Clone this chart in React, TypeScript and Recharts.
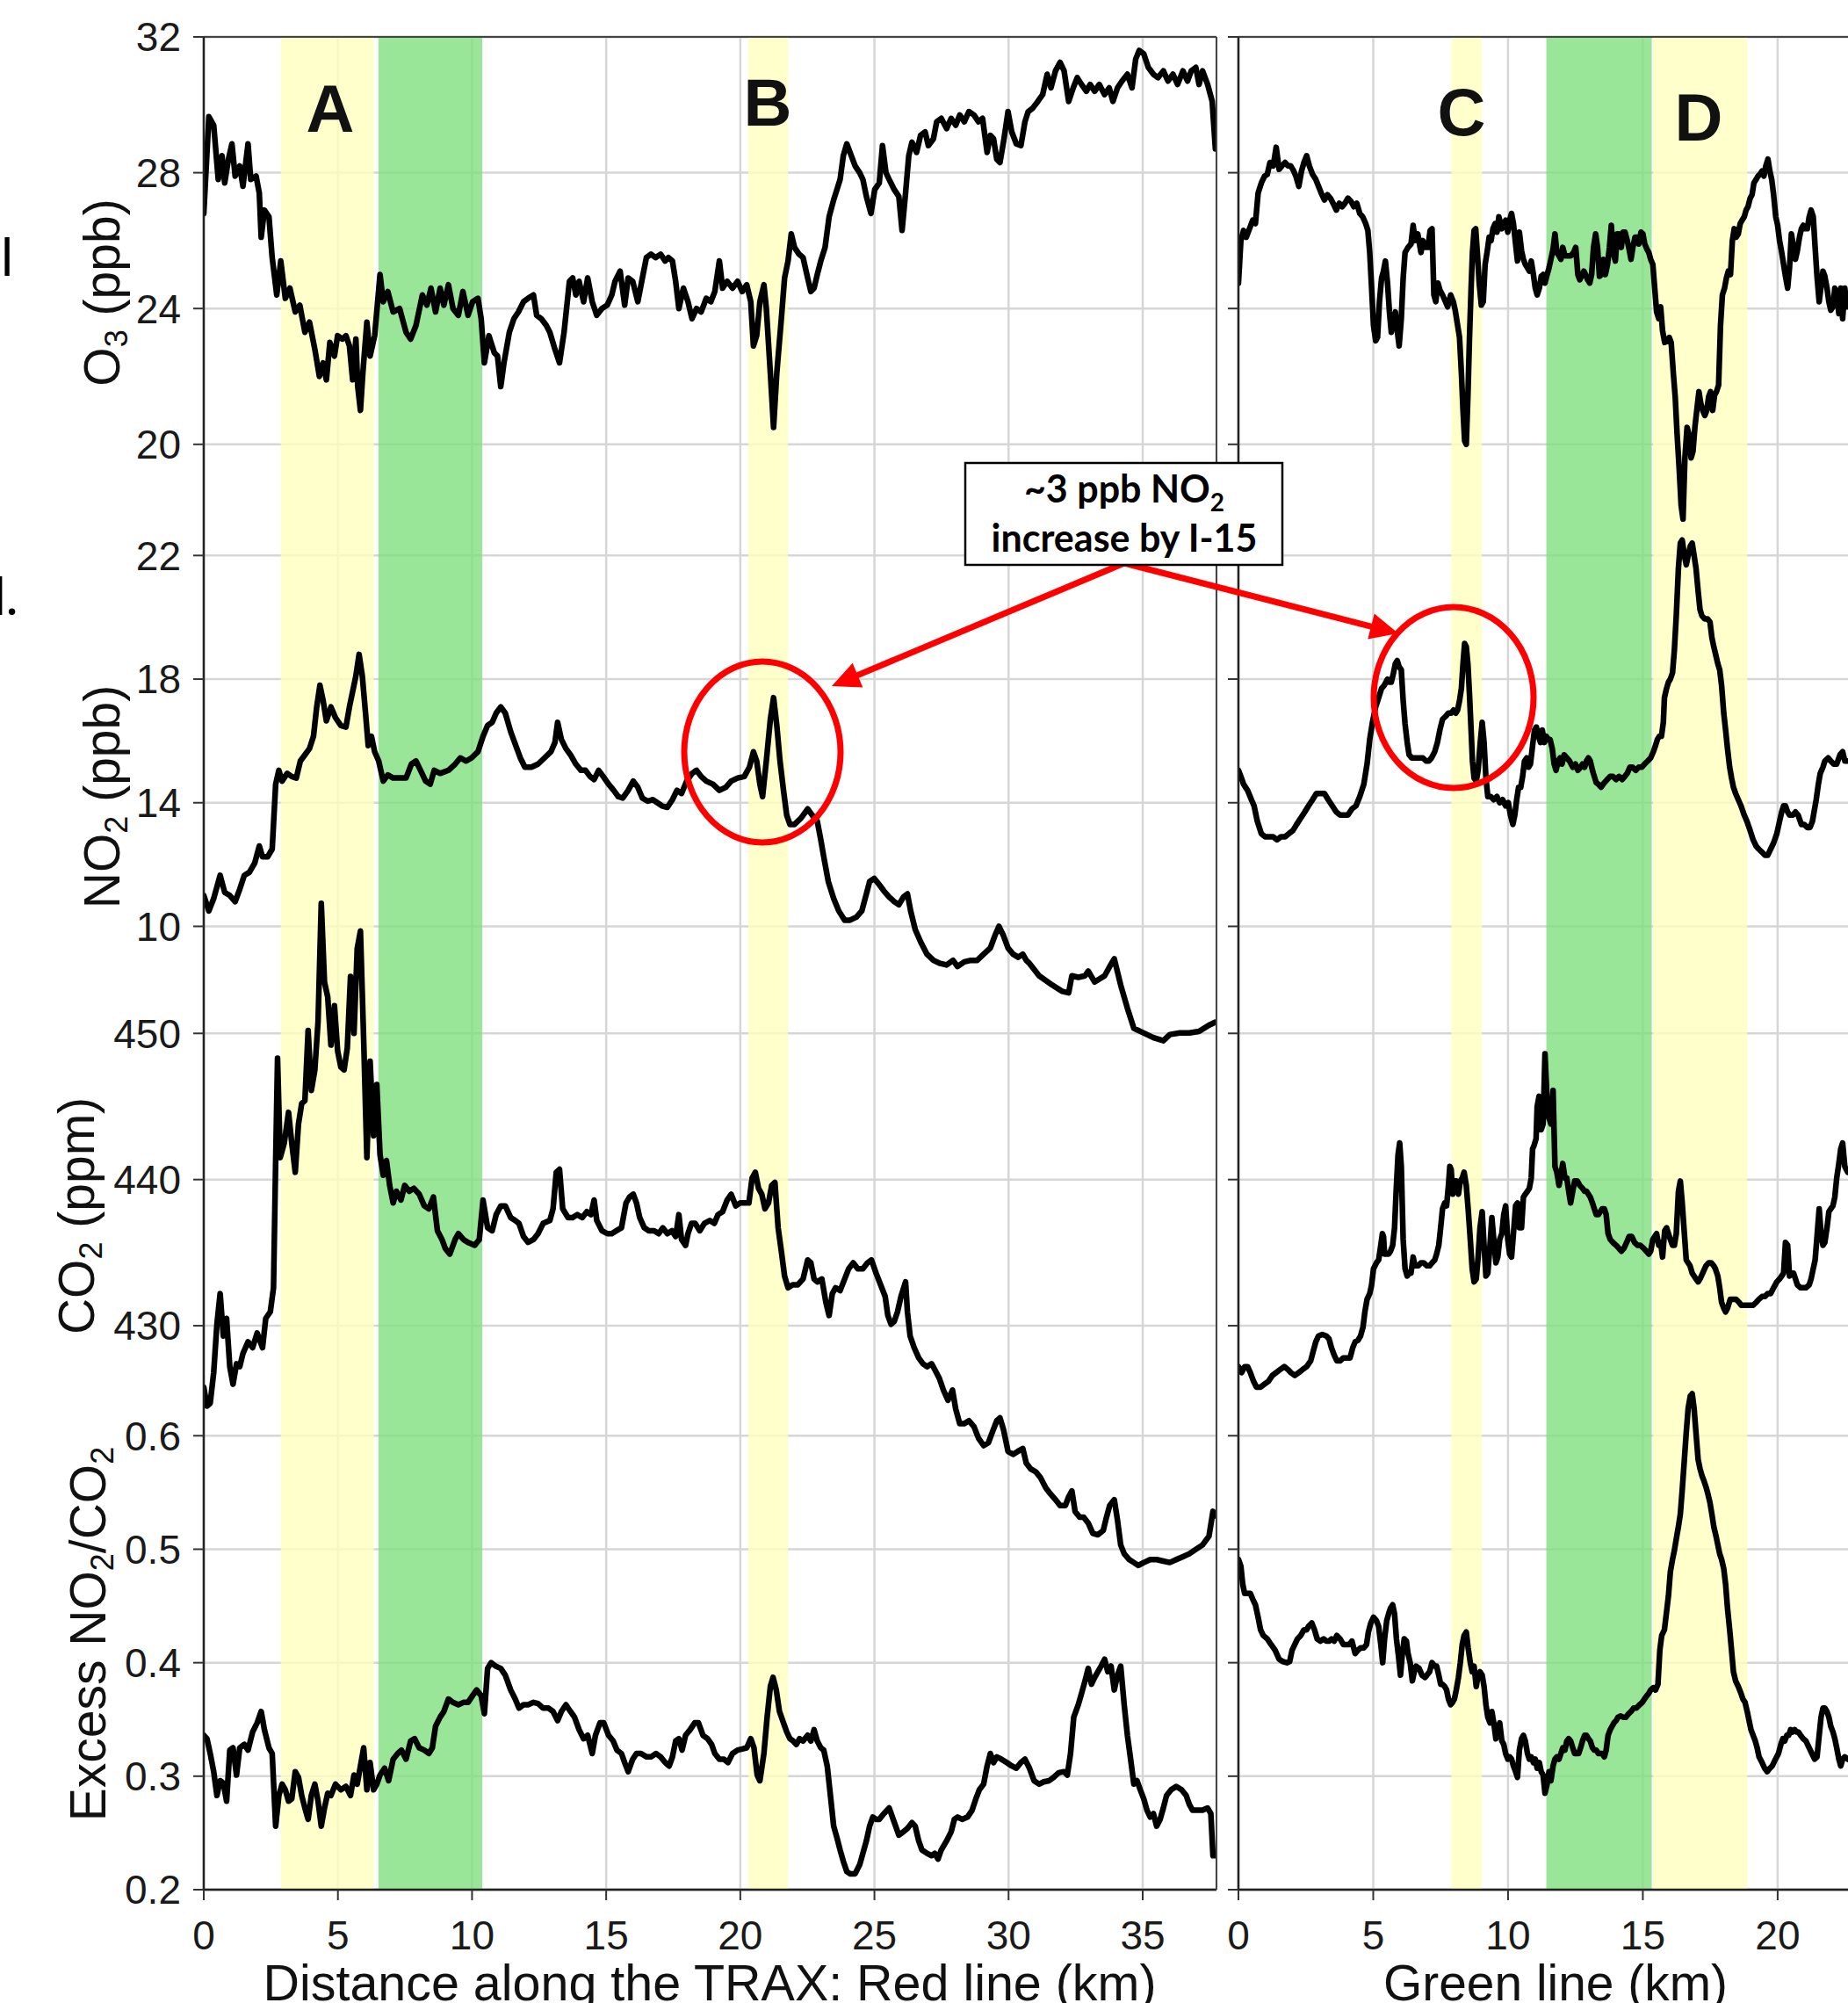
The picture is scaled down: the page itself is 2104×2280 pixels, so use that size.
import React from 'react';
import { LineChart, Line, XAxis, YAxis, CartesianGrid, ReferenceArea } from 'recharts';

// ---- data: [km, value] ----

const redO3: [number, number][] = [
  [0, 26.8], [0.19, 29.65], [0.37, 29.4], [0.54, 27.8], [0.68, 28.5], [0.78, 27.7], [0.92, 28.4], [1.05, 28.85],
  [1.17, 27.9], [1.34, 28.2], [1.46, 27.6], [1.65, 28.85], [1.75, 27.8], [1.95, 27.9], [2.07, 27.4], [2.14, 26.1],
  [2.26, 26.9], [2.43, 26.7], [2.55, 25.5], [2.72, 24.4], [2.87, 25.4], [3.04, 24.3], [3.21, 24.6], [3.41, 23.9],
  [3.58, 24.1], [3.77, 23.3], [3.94, 23.6], [4.14, 22.8], [4.31, 22.0], [4.45, 22.4], [4.57, 21.9], [4.7, 23.0],
  [4.87, 22.6], [4.99, 23.2], [5.16, 23.1], [5.3, 23.2], [5.43, 22.9], [5.55, 21.9], [5.67, 23.1], [5.74, 21.7],
  [5.84, 21.0], [5.93, 22.1], [6.08, 23.6], [6.2, 22.6], [6.37, 23.2], [6.57, 25.0], [6.69, 24.2], [6.86, 24.5],
  [7.06, 23.9], [7.3, 24.0], [7.54, 23.3], [7.71, 23.1], [7.91, 23.5], [8.15, 24.4], [8.32, 24.1], [8.47, 24.6],
  [8.64, 23.9], [8.81, 24.6], [8.95, 24.1], [9.12, 24.7], [9.29, 24.0], [9.49, 23.8], [9.66, 24.5], [9.85, 23.8],
  [10.02, 24.2], [10.22, 24.3], [10.34, 23.7], [10.46, 22.4], [10.63, 23.2], [10.83, 22.7], [10.95, 22.6], [11.07, 21.7],
  [11.19, 22.4], [11.39, 23.3], [11.56, 23.7], [11.73, 23.9], [11.92, 24.2], [12.09, 24.3], [12.29, 24.4], [12.41, 23.8],
  [12.58, 23.7], [12.77, 23.5], [12.9, 23.3], [13.09, 22.8], [13.26, 22.4], [13.43, 23.3], [13.63, 24.8], [13.75, 24.9],
  [13.87, 24.4], [13.99, 24.8], [14.16, 24.2], [14.31, 24.9], [14.48, 24.2], [14.65, 23.8], [14.84, 24.0], [15.04, 24.1],
  [15.21, 24.4], [15.33, 24.8], [15.52, 25.1], [15.69, 24.1], [15.82, 24.9], [15.99, 24.8], [16.18, 24.2], [16.35, 24.9],
  [16.5, 25.5], [16.67, 25.6], [16.84, 25.5], [17.03, 25.6], [17.2, 25.4], [17.32, 25.5], [17.47, 25.4], [17.59, 24.8],
  [17.71, 24.0], [17.88, 24.6], [18.05, 24.2], [18.2, 23.7], [18.37, 24.0], [18.54, 23.9], [18.73, 24.3], [18.9, 24.2],
  [19.05, 24.5], [19.22, 25.4], [19.34, 24.6], [19.51, 24.8], [19.71, 24.6], [19.9, 24.8], [20.07, 24.5], [20.24, 24.7],
  [20.39, 24.2], [20.49, 22.9], [20.61, 23.2], [20.73, 24.2], [20.88, 24.7], [20.97, 24.0], [21.12, 22.1], [21.24, 20.5],
  [21.36, 22.1], [21.53, 23.7], [21.65, 24.9], [21.78, 25.4], [21.9, 26.2], [22.02, 25.8], [22.19, 25.6], [22.34, 25.5],
  [22.51, 24.9], [22.63, 24.5], [22.75, 24.6], [22.87, 25.0], [23.0, 25.4], [23.16, 25.8], [23.31, 26.7], [23.48, 27.2],
  [23.6, 27.5], [23.72, 27.8], [23.84, 28.5], [23.97, 28.85], [24.09, 28.6], [24.28, 28.2], [24.45, 28.0], [24.57, 27.8],
  [24.7, 27.3], [24.87, 26.8], [25.01, 27.5], [25.18, 27.7], [25.3, 28.8], [25.43, 28.0], [25.55, 27.8], [25.74, 27.5],
  [25.91, 27.3], [26.03, 26.3], [26.16, 27.4], [26.28, 28.5], [26.4, 28.9], [26.57, 28.6], [26.72, 29.1], [26.89, 29.2],
  [27.01, 28.8], [27.2, 29.0], [27.32, 29.5], [27.49, 29.6], [27.69, 29.3], [27.86, 29.6], [28.03, 29.4], [28.18, 29.7],
  [28.35, 29.5], [28.52, 29.8], [28.71, 29.7], [28.88, 29.5], [29.03, 29.6], [29.2, 28.6], [29.32, 29.1], [29.44, 29.0],
  [29.56, 28.4], [29.68, 28.3], [29.83, 29.0], [29.98, 29.8], [30.12, 29.2], [30.29, 28.85], [30.46, 28.8], [30.61, 29.5],
  [30.73, 29.8], [30.9, 29.9], [31.09, 30.1], [31.27, 30.3], [31.44, 30.9], [31.58, 30.5], [31.75, 31.0], [31.92, 31.25],
  [32.07, 31.0], [32.24, 30.1], [32.41, 30.5], [32.56, 30.8], [32.72, 30.6], [32.9, 30.4], [33.04, 30.6], [33.21, 30.4],
  [33.38, 30.6], [33.58, 30.3], [33.75, 30.5], [33.89, 30.1], [34.06, 30.5], [34.23, 30.7], [34.43, 30.9], [34.6, 30.5],
  [34.74, 31.35], [34.87, 31.6], [35.04, 31.5], [35.21, 31.1], [35.4, 30.9], [35.57, 30.8], [35.77, 31.0], [35.94, 30.7],
  [36.13, 30.9], [36.3, 30.6], [36.5, 31.0], [36.67, 30.7], [36.81, 31.0], [36.98, 31.1], [37.1, 30.6], [37.23, 31.0],
  [37.42, 30.6], [37.59, 30.1], [37.71, 28.7],
];

const redNO2: [number, number][] = [
  [0, 11.0], [0.19, 10.5], [0.37, 10.9], [0.61, 11.65], [0.78, 11.1], [0.97, 11.0], [1.17, 10.8], [1.34, 11.2],
  [1.51, 11.65], [1.7, 11.75], [1.9, 12.05], [2.07, 12.6], [2.19, 12.25], [2.38, 12.25], [2.55, 12.5], [2.68, 14.6],
  [2.8, 15.05], [2.92, 14.7], [3.11, 14.95], [3.28, 14.85], [3.45, 14.8], [3.6, 15.35], [3.77, 15.55], [3.94, 15.75],
  [4.09, 16.15], [4.21, 17.1], [4.33, 17.8], [4.45, 17.3], [4.57, 16.65], [4.74, 17.1], [4.91, 16.75], [5.11, 16.5],
  [5.3, 16.45], [5.43, 17.1], [5.55, 17.6], [5.67, 18.1], [5.79, 18.8], [5.91, 18.1], [6.03, 16.9], [6.13, 15.85],
  [6.25, 16.15], [6.37, 15.65], [6.52, 15.35], [6.69, 14.7], [6.86, 14.9], [7.06, 14.8], [7.3, 14.8], [7.54, 14.8],
  [7.74, 15.25], [7.91, 15.35], [8.08, 15.05], [8.27, 14.7], [8.44, 14.6], [8.59, 15.05], [8.81, 14.95], [9.12, 15.05],
  [9.37, 15.25], [9.56, 15.45], [9.78, 15.35], [9.98, 15.45], [10.22, 15.65], [10.41, 16.15], [10.58, 16.5], [10.75, 16.6],
  [10.9, 16.9], [11.07, 17.1], [11.24, 16.9], [11.44, 16.3], [11.63, 15.85], [11.8, 15.45], [11.97, 15.15], [12.21, 15.15],
  [12.46, 15.25], [12.7, 15.45], [12.94, 15.65], [13.09, 15.95], [13.19, 16.6], [13.33, 16.05], [13.5, 15.75], [13.67, 15.55],
  [13.87, 15.25], [14.06, 15.05], [14.23, 15.05], [14.4, 14.85], [14.55, 14.75], [14.72, 15.05], [14.89, 14.85], [15.09, 14.6],
  [15.28, 14.4], [15.45, 14.2], [15.62, 14.15], [15.82, 14.4], [16.01, 14.7], [16.18, 14.5], [16.35, 14.15], [16.55, 14.05],
  [16.74, 14.1], [16.91, 14.0], [17.08, 13.9], [17.28, 13.85], [17.47, 14.1], [17.64, 14.4], [17.81, 14.3], [18.0, 14.7],
  [18.2, 14.95], [18.37, 15.05], [18.54, 14.85], [18.73, 14.7], [18.98, 14.6], [19.22, 14.4], [19.46, 14.5], [19.66, 14.7],
  [19.9, 14.8], [20.15, 14.85], [20.34, 15.15], [20.49, 15.65], [20.61, 15.35], [20.73, 14.6], [20.83, 14.2], [20.97, 15.35],
  [21.12, 16.7], [21.24, 17.4], [21.36, 16.5], [21.48, 15.35], [21.61, 14.4], [21.73, 13.6], [21.85, 13.3], [22.02, 13.3],
  [22.26, 13.5], [22.51, 13.8], [22.68, 13.6], [22.87, 13.4], [23.0, 12.8], [23.11, 12.25], [23.28, 11.45], [23.48, 10.9],
  [23.67, 10.5], [23.89, 10.2], [24.09, 10.2], [24.33, 10.3], [24.53, 10.5], [24.7, 11.05], [24.82, 11.45], [24.99, 11.55],
  [25.18, 11.35], [25.35, 11.15], [25.55, 10.95], [25.74, 10.8], [25.91, 10.7], [26.08, 10.95], [26.23, 11.05], [26.35, 10.5],
  [26.52, 9.9], [26.72, 9.5], [26.96, 9.1], [27.2, 8.9], [27.45, 8.8], [27.69, 8.75], [27.93, 8.9], [28.1, 8.7],
  [28.35, 8.85], [28.59, 8.9], [28.83, 8.9], [29.07, 9.1], [29.32, 9.3], [29.49, 9.7], [29.64, 10.0], [29.81, 9.7],
  [29.98, 9.3], [30.17, 9.1], [30.36, 9.0], [30.53, 9.1], [30.66, 8.9], [30.78, 8.8], [31.14, 8.4], [31.63, 8.1],
  [31.99, 7.9], [32.24, 7.85], [32.36, 8.4], [32.6, 8.35], [32.85, 8.4], [32.97, 8.55], [33.21, 8.2], [33.58, 8.4],
  [33.77, 8.7], [33.94, 8.95], [34.18, 8.1], [34.43, 7.35], [34.67, 6.7], [35.04, 6.55], [35.4, 6.4], [35.77, 6.3],
  [36.01, 6.5], [36.38, 6.55], [36.74, 6.55], [37.1, 6.6], [37.47, 6.8], [37.71, 6.9],
];

const redCO2: [number, number][] = [
  [0, 425.8], [0.12, 424.5], [0.24, 424.7], [0.37, 426.8], [0.49, 430.1], [0.61, 432.2], [0.73, 429.3], [0.85, 430.5],
  [0.97, 427.2], [1.09, 426.0], [1.22, 427.4], [1.34, 427.2], [1.46, 428.1], [1.65, 428.9], [1.82, 428.5], [1.99, 429.5],
  [2.19, 428.5], [2.31, 430.5], [2.48, 430.95], [2.6, 432.6], [2.68, 441.3], [2.75, 448.3], [2.85, 441.5], [3.0, 442.5],
  [3.16, 444.6], [3.28, 442.5], [3.41, 440.5], [3.53, 443.8], [3.65, 445.2], [3.77, 445.4], [3.89, 450.2], [4.01, 446.1],
  [4.14, 447.5], [4.26, 450.8], [4.38, 458.9], [4.5, 453.5], [4.62, 452.5], [4.74, 449.2], [4.87, 451.9], [4.99, 448.8],
  [5.11, 447.7], [5.23, 447.5], [5.35, 449.0], [5.47, 453.9], [5.6, 450.0], [5.72, 455.8], [5.84, 457.0], [5.96, 449.6],
  [6.08, 441.5], [6.2, 448.1], [6.33, 443.0], [6.45, 446.5], [6.57, 441.7], [6.69, 440.3], [6.81, 441.3], [6.93, 439.6],
  [7.06, 438.4], [7.18, 439.2], [7.35, 438.6], [7.49, 439.6], [7.66, 439.2], [7.83, 439.4], [8.03, 439.0], [8.22, 438.2],
  [8.39, 438.0], [8.56, 438.8], [8.71, 436.5], [8.88, 435.9], [9.0, 435.3], [9.17, 434.9], [9.37, 435.9], [9.49, 436.3],
  [9.68, 435.9], [9.85, 435.7], [10.1, 435.5], [10.27, 435.9], [10.41, 438.6], [10.58, 436.7], [10.75, 436.5], [10.9, 437.6],
  [11.07, 438.2], [11.24, 438.2], [11.44, 437.4], [11.61, 437.2], [11.75, 437.0], [11.92, 436.1], [12.09, 435.7], [12.29, 435.9],
  [12.46, 436.3], [12.65, 437.0], [12.9, 437.2], [13.02, 438.0], [13.14, 440.5], [13.26, 440.7], [13.38, 438.0], [13.58, 437.4],
  [13.75, 437.4], [13.92, 437.6], [14.11, 437.4], [14.28, 437.8], [14.43, 437.6], [14.55, 438.6], [14.65, 437.2], [14.84, 436.5],
  [15.04, 436.3], [15.21, 436.3], [15.38, 436.5], [15.57, 436.7], [15.74, 438.4], [15.87, 438.8], [16.01, 439.0], [16.13, 438.4],
  [16.25, 437.4], [16.42, 436.7], [16.59, 436.5], [16.79, 436.5], [16.96, 436.3], [17.11, 436.7], [17.28, 436.3], [17.45, 436.5],
  [17.59, 436.1], [17.71, 437.6], [17.81, 435.9], [17.96, 435.5], [18.05, 436.3], [18.18, 437.0], [18.32, 437.0], [18.49, 436.5],
  [18.66, 437.0], [18.86, 437.2], [19.03, 437.0], [19.17, 437.6], [19.34, 437.8], [19.51, 438.6], [19.66, 439.0], [19.83, 438.2],
  [20.0, 438.4], [20.15, 438.4], [20.32, 438.4], [20.44, 440.1], [20.56, 440.5], [20.68, 439.4], [20.8, 439.0], [20.92, 438.0],
  [21.05, 438.4], [21.17, 439.6], [21.29, 439.8], [21.41, 436.7], [21.53, 435.1], [21.65, 433.4], [21.78, 432.6], [21.95, 432.8],
  [22.14, 432.8], [22.34, 433.2], [22.51, 434.5], [22.63, 434.3], [22.75, 433.2], [22.87, 433.0], [23.04, 433.2], [23.19, 431.6],
  [23.31, 430.7], [23.43, 432.2], [23.55, 432.6], [23.72, 432.4], [23.89, 433.2], [24.04, 433.9], [24.21, 434.3], [24.38, 433.9],
  [24.57, 433.9], [24.74, 434.3], [24.89, 434.5], [25.06, 433.6], [25.23, 432.8], [25.4, 432.0], [25.5, 430.7], [25.62, 430.1],
  [25.74, 430.3], [25.86, 430.95], [25.99, 432.0], [26.16, 433.0], [26.23, 430.95], [26.33, 429.3], [26.48, 428.5], [26.65, 427.8],
  [26.81, 427.4], [26.96, 427.2], [27.13, 427.4], [27.25, 427.0], [27.42, 426.4], [27.57, 425.6], [27.74, 424.9], [27.91, 425.6],
  [28.03, 424.3], [28.18, 423.3], [28.35, 423.3], [28.52, 423.5], [28.71, 423.1], [28.88, 422.3], [29.07, 421.8], [29.25, 422.0],
  [29.39, 422.7], [29.56, 423.5], [29.68, 423.7], [29.81, 422.9], [29.98, 421.4], [30.17, 421.2], [30.34, 421.4], [30.53, 421.6],
  [30.66, 420.6], [30.83, 420.2], [31.02, 420.0], [31.19, 419.6], [31.39, 418.9], [31.56, 418.5], [31.75, 418.1], [31.92, 417.7],
  [32.12, 417.7], [32.24, 418.3], [32.36, 418.7], [32.48, 417.3], [32.65, 416.9], [32.8, 416.9], [32.97, 416.5], [33.14, 415.8],
  [33.33, 415.7], [33.53, 416.0], [33.65, 416.9], [33.77, 417.7], [33.94, 418.1], [34.06, 416.7], [34.18, 415.0], [34.31, 414.4],
  [34.5, 414.0], [34.67, 413.8], [34.84, 413.6], [35.04, 413.8], [35.28, 414.0], [35.52, 414.0], [35.77, 413.9], [36.01, 413.8],
  [36.25, 414.0], [36.5, 414.2], [36.74, 414.4], [36.98, 414.7], [37.23, 415.0], [37.47, 415.6], [37.62, 417.3], [37.71, 417.0],
];

const redRatio: [number, number][] = [
  [0, 0.336], [0.12, 0.333], [0.24, 0.32], [0.37, 0.304], [0.49, 0.283], [0.61, 0.296], [0.73, 0.294], [0.85, 0.278],
  [0.97, 0.323], [1.09, 0.325], [1.22, 0.301], [1.34, 0.325], [1.51, 0.328], [1.65, 0.323], [1.82, 0.339], [1.99, 0.347],
  [2.14, 0.357], [2.26, 0.341], [2.43, 0.325], [2.55, 0.32], [2.68, 0.256], [2.8, 0.283], [2.92, 0.293], [3.04, 0.288],
  [3.16, 0.278], [3.28, 0.28], [3.41, 0.304], [3.53, 0.299], [3.65, 0.283], [3.77, 0.272], [3.89, 0.262], [4.01, 0.283],
  [4.14, 0.293], [4.26, 0.278], [4.38, 0.256], [4.5, 0.272], [4.62, 0.285], [4.74, 0.283], [4.91, 0.293], [5.11, 0.288],
  [5.3, 0.291], [5.47, 0.283], [5.6, 0.301], [5.72, 0.293], [5.84, 0.309], [5.96, 0.325], [6.08, 0.288], [6.2, 0.312],
  [6.33, 0.288], [6.45, 0.293], [6.57, 0.301], [6.74, 0.307], [6.89, 0.296], [7.06, 0.315], [7.23, 0.32], [7.37, 0.323],
  [7.54, 0.315], [7.71, 0.331], [7.86, 0.333], [8.03, 0.325], [8.22, 0.323], [8.39, 0.32], [8.52, 0.325], [8.64, 0.344],
  [8.81, 0.352], [8.95, 0.357], [9.12, 0.368], [9.29, 0.365], [9.49, 0.363], [9.68, 0.365], [9.85, 0.365], [10.02, 0.371],
  [10.17, 0.376], [10.34, 0.371], [10.46, 0.355], [10.58, 0.395], [10.71, 0.4], [10.88, 0.397], [11.07, 0.395], [11.24, 0.389],
  [11.44, 0.376], [11.61, 0.368], [11.75, 0.36], [11.92, 0.363], [12.09, 0.363], [12.29, 0.365], [12.46, 0.364], [12.65, 0.36],
  [12.85, 0.36], [13.02, 0.357], [13.19, 0.349], [13.33, 0.357], [13.5, 0.363], [13.67, 0.357], [13.82, 0.352], [13.99, 0.341],
  [14.16, 0.333], [14.31, 0.336], [14.48, 0.32], [14.6, 0.336], [14.77, 0.347], [14.91, 0.347], [15.09, 0.336], [15.26, 0.331],
  [15.4, 0.323], [15.57, 0.32], [15.69, 0.312], [15.82, 0.304], [15.99, 0.315], [16.13, 0.32], [16.3, 0.32], [16.5, 0.317],
  [16.67, 0.317], [16.86, 0.32], [17.03, 0.317], [17.2, 0.312], [17.35, 0.309], [17.47, 0.317], [17.59, 0.331], [17.71, 0.333],
  [17.83, 0.323], [17.96, 0.336], [18.13, 0.341], [18.3, 0.347], [18.44, 0.347], [18.61, 0.336], [18.78, 0.333], [18.93, 0.328],
  [19.05, 0.32], [19.22, 0.315], [19.39, 0.315], [19.54, 0.312], [19.71, 0.32], [19.9, 0.323], [20.07, 0.324], [20.24, 0.325],
  [20.39, 0.333], [20.51, 0.325], [20.63, 0.301], [20.73, 0.296], [20.88, 0.32], [21.0, 0.352], [21.12, 0.379], [21.22, 0.387],
  [21.34, 0.376], [21.46, 0.357], [21.61, 0.347], [21.73, 0.339], [21.85, 0.333], [21.97, 0.331], [22.09, 0.328], [22.21, 0.333],
  [22.34, 0.331], [22.51, 0.336], [22.63, 0.331], [22.75, 0.341], [22.87, 0.331], [23.0, 0.325], [23.11, 0.323], [23.24, 0.309],
  [23.36, 0.283], [23.48, 0.256], [23.6, 0.246], [23.72, 0.235], [23.84, 0.225], [23.97, 0.216], [24.09, 0.214], [24.28, 0.214],
  [24.45, 0.222], [24.57, 0.232], [24.7, 0.243], [24.82, 0.256], [24.94, 0.264], [25.06, 0.262], [25.18, 0.262], [25.35, 0.267],
  [25.55, 0.272], [25.67, 0.264], [25.79, 0.256], [25.91, 0.248], [26.08, 0.251], [26.23, 0.254], [26.4, 0.259], [26.52, 0.256],
  [26.65, 0.243], [26.77, 0.235], [26.96, 0.232], [27.13, 0.23], [27.25, 0.232], [27.37, 0.227], [27.49, 0.235], [27.69, 0.243],
  [27.86, 0.251], [27.98, 0.262], [28.1, 0.264], [28.27, 0.262], [28.47, 0.264], [28.64, 0.27], [28.78, 0.28], [28.91, 0.288],
  [29.07, 0.293], [29.2, 0.309], [29.32, 0.32], [29.44, 0.312], [29.56, 0.317], [29.73, 0.315], [29.93, 0.312], [30.12, 0.309],
  [30.29, 0.307], [30.46, 0.312], [30.61, 0.315], [30.78, 0.307], [30.95, 0.296], [31.14, 0.293], [31.31, 0.295], [31.51, 0.296],
  [31.68, 0.299], [31.87, 0.303], [32.07, 0.304], [32.19, 0.301], [32.31, 0.32], [32.43, 0.352], [32.6, 0.363], [32.72, 0.373],
  [32.85, 0.384], [32.97, 0.395], [33.09, 0.381], [33.21, 0.387], [33.33, 0.392], [33.45, 0.397], [33.58, 0.403], [33.7, 0.392],
  [33.82, 0.397], [33.94, 0.376], [34.06, 0.389], [34.18, 0.397], [34.31, 0.363], [34.43, 0.336], [34.55, 0.315], [34.67, 0.293],
  [34.79, 0.296], [34.91, 0.288], [35.04, 0.28], [35.16, 0.27], [35.28, 0.264], [35.4, 0.267], [35.52, 0.256], [35.65, 0.262],
  [35.77, 0.272], [35.89, 0.283], [36.06, 0.288], [36.25, 0.291], [36.45, 0.288], [36.62, 0.283], [36.74, 0.275], [36.86, 0.27],
  [37.03, 0.27], [37.23, 0.27], [37.42, 0.272], [37.54, 0.267], [37.62, 0.23], [37.71, 0.23],
];

const greenO3: [number, number][] = [
  [0, 24.75], [0.09, 26.0], [0.19, 26.3], [0.29, 26.1], [0.41, 26.35], [0.53, 26.6], [0.63, 26.5], [0.73, 27.4],
  [0.85, 27.7], [0.97, 27.9], [1.07, 27.95], [1.17, 28.3], [1.29, 28.2], [1.4, 28.75], [1.51, 28.1], [1.61, 28.2],
  [1.73, 28.3], [1.84, 28.2], [1.94, 28.2], [2.05, 28.05], [2.13, 27.9], [2.24, 27.6], [2.34, 28.05], [2.43, 28.3],
  [2.53, 28.5], [2.63, 28.2], [2.75, 27.95], [2.87, 27.8], [2.97, 27.6], [3.07, 27.4], [3.19, 27.2], [3.3, 27.35],
  [3.41, 27.25], [3.51, 27.1], [3.63, 26.9], [3.74, 27.1], [3.85, 27.0], [3.95, 27.1], [4.06, 27.25], [4.18, 27.15],
  [4.28, 27.0], [4.39, 27.1], [4.5, 26.8], [4.61, 26.7], [4.72, 26.5], [4.8, 26.3], [4.87, 25.65], [4.94, 24.6],
  [5.01, 23.5], [5.09, 23.05], [5.16, 23.15], [5.23, 24.2], [5.31, 24.9], [5.38, 25.1], [5.45, 25.4], [5.53, 24.75],
  [5.6, 23.9], [5.67, 23.3], [5.75, 23.7], [5.82, 23.9], [5.89, 23.35], [5.96, 22.9], [6.04, 23.7], [6.11, 24.9],
  [6.18, 25.65], [6.29, 25.8], [6.4, 25.9], [6.48, 26.45], [6.55, 26.0], [6.65, 26.2], [6.77, 25.65], [6.84, 26.0],
  [6.94, 25.8], [7.03, 25.8], [7.11, 26.3], [7.18, 26.35], [7.25, 24.4], [7.32, 24.2], [7.4, 24.75], [7.47, 24.55],
  [7.57, 24.4], [7.68, 24.2], [7.76, 24.05], [7.87, 24.4], [7.97, 24.2], [8.04, 23.95], [8.13, 23.5], [8.2, 23.15],
  [8.27, 22.1], [8.33, 21.0], [8.39, 20.1], [8.45, 20.0], [8.51, 21.4], [8.57, 23.15], [8.63, 24.6], [8.68, 25.65],
  [8.74, 26.3], [8.8, 26.35], [8.86, 25.65], [8.93, 24.75], [9.01, 24.1], [9.08, 24.2], [9.15, 25.3], [9.23, 25.7],
  [9.3, 26.1], [9.37, 26.0], [9.44, 26.35], [9.52, 26.5], [9.59, 26.25], [9.66, 26.7], [9.77, 26.35], [9.84, 26.5],
  [9.91, 26.6], [9.99, 26.25], [10.06, 26.6], [10.13, 26.8], [10.2, 26.5], [10.28, 25.9], [10.35, 25.4], [10.42, 26.25],
  [10.5, 25.7], [10.57, 25.45], [10.64, 25.3], [10.72, 25.2], [10.79, 25.1], [10.86, 25.4], [10.94, 25.0], [11.01, 24.6],
  [11.08, 24.4], [11.16, 24.6], [11.23, 24.95], [11.3, 25.0], [11.37, 24.75], [11.45, 25.0], [11.52, 25.2], [11.59, 25.45],
  [11.67, 25.75], [11.74, 26.2], [11.81, 25.65], [11.89, 25.55], [11.96, 25.45], [12.03, 25.8], [12.11, 25.55], [12.22, 25.55],
  [12.32, 25.55], [12.43, 25.65], [12.51, 25.8], [12.59, 25.0], [12.66, 24.85], [12.73, 24.95], [12.81, 25.1], [12.88, 25.0],
  [12.95, 24.85], [13.03, 24.75], [13.1, 25.0], [13.17, 25.8], [13.25, 26.2], [13.32, 25.8], [13.39, 24.95], [13.46, 25.0],
  [13.54, 25.45], [13.61, 25.0], [13.69, 25.3], [13.76, 25.8], [13.83, 26.45], [13.9, 25.65], [13.98, 25.4], [14.05, 26.2],
  [14.12, 26.2], [14.2, 25.8], [14.27, 26.25], [14.34, 26.25], [14.42, 26.0], [14.49, 25.75], [14.56, 25.45], [14.63, 25.8],
  [14.71, 26.1], [14.78, 26.1], [14.85, 25.9], [14.93, 26.25], [15.0, 26.2], [15.07, 25.9], [15.15, 25.75], [15.22, 25.65],
  [15.29, 25.45], [15.37, 25.3], [15.44, 24.6], [15.51, 23.9], [15.59, 23.7], [15.66, 24.05], [15.73, 23.35], [15.81, 23.0],
  [15.91, 23.05], [15.98, 23.15], [16.05, 23.0], [16.13, 22.1], [16.2, 21.4], [16.27, 20.3], [16.35, 19.25], [16.42, 18.2],
  [16.49, 17.8], [16.56, 19.6], [16.64, 20.5], [16.71, 20.3], [16.79, 19.6], [16.86, 19.8], [16.93, 20.5], [17.0, 21.0],
  [17.08, 21.55], [17.15, 21.2], [17.22, 21.0], [17.3, 20.85], [17.37, 21.0], [17.44, 21.4], [17.51, 21.55], [17.59, 21.0],
  [17.66, 21.45], [17.73, 21.55], [17.81, 21.75], [17.88, 23.5], [17.95, 24.4], [18.03, 24.6], [18.1, 24.9], [18.17, 25.1],
  [18.25, 25.0], [18.32, 26.0], [18.39, 26.35], [18.46, 26.1], [18.54, 26.2], [18.61, 26.5], [18.68, 26.6], [18.76, 26.7],
  [18.83, 26.9], [18.9, 27.0], [18.98, 27.25], [19.05, 27.35], [19.12, 27.7], [19.2, 27.8], [19.27, 27.9], [19.34, 27.95],
  [19.42, 28.05], [19.49, 27.9], [19.56, 28.2], [19.64, 28.4], [19.71, 28.05], [19.78, 27.8], [19.85, 27.35], [19.93, 26.7],
  [20.0, 26.45], [20.07, 26.0], [20.15, 25.65], [20.22, 25.3], [20.29, 24.95], [20.37, 24.6], [20.44, 25.2], [20.51, 26.2],
  [20.59, 25.8], [20.66, 25.45], [20.73, 25.7], [20.81, 26.1], [20.88, 26.35], [20.95, 26.45], [21.02, 26.35], [21.1, 26.35],
  [21.17, 26.7], [21.24, 26.9], [21.32, 26.7], [21.39, 25.8], [21.46, 24.95], [21.54, 24.2], [21.61, 24.65], [21.68, 25.1],
  [21.75, 24.95], [21.83, 24.6], [21.9, 24.2], [21.97, 23.95], [22.05, 24.05], [22.12, 24.6], [22.19, 24.4], [22.27, 23.85],
  [22.34, 24.6], [22.41, 23.7], [22.49, 24.6], [22.56, 24.05], [22.6, 24.4],
];

const greenNO2: [number, number][] = [
  [0, 15.05], [0.09, 14.85], [0.19, 14.6], [0.34, 14.4], [0.48, 14.1], [0.58, 13.9], [0.7, 13.4], [0.85, 13.0],
  [0.99, 12.9], [1.14, 12.9], [1.29, 12.9], [1.43, 12.8], [1.58, 12.9], [1.73, 12.9], [1.87, 13.0], [2.02, 13.1],
  [2.16, 13.3], [2.31, 13.5], [2.46, 13.7], [2.6, 13.9], [2.75, 14.1], [2.89, 14.3], [3.04, 14.3], [3.19, 14.3],
  [3.33, 14.1], [3.48, 13.9], [3.63, 13.7], [3.77, 13.6], [3.92, 13.6], [4.06, 13.6], [4.21, 13.8], [4.36, 13.9],
  [4.5, 14.2], [4.65, 14.6], [4.77, 15.25], [4.87, 16.05], [4.97, 16.6], [5.09, 17.1], [5.2, 17.4], [5.31, 17.7],
  [5.41, 17.8], [5.53, 18.0], [5.6, 17.9], [5.67, 17.9], [5.75, 18.2], [5.82, 18.5], [5.89, 18.6], [5.96, 18.4],
  [6.04, 18.3], [6.11, 17.3], [6.18, 16.55], [6.26, 15.95], [6.33, 15.55], [6.43, 15.45], [6.55, 15.45], [6.7, 15.45],
  [6.84, 15.45], [6.96, 15.35], [7.06, 15.35], [7.16, 15.45], [7.28, 15.65], [7.38, 15.95], [7.47, 16.35], [7.57, 16.7],
  [7.69, 16.8], [7.79, 16.9], [7.89, 16.9], [7.98, 17.0], [8.06, 16.9], [8.13, 17.0], [8.2, 17.3], [8.27, 17.7],
  [8.33, 18.5], [8.39, 19.15], [8.45, 19.05], [8.51, 18.5], [8.57, 17.5], [8.63, 16.35], [8.68, 15.35], [8.74, 14.8],
  [8.82, 14.7], [8.89, 15.05], [8.96, 15.85], [9.04, 16.6], [9.11, 15.95], [9.18, 14.8], [9.25, 14.2], [9.36, 14.2],
  [9.47, 14.1], [9.59, 14.2], [9.69, 14.0], [9.8, 14.1], [9.91, 13.9], [10.01, 14.0], [10.09, 13.6], [10.18, 13.3],
  [10.25, 13.6], [10.32, 14.1], [10.39, 14.5], [10.47, 14.5], [10.54, 14.85], [10.61, 15.35], [10.69, 15.45], [10.76, 15.15],
  [10.83, 15.25], [10.91, 15.85], [10.98, 16.35], [11.05, 16.45], [11.13, 16.15], [11.2, 15.95], [11.27, 16.35], [11.35, 15.95],
  [11.42, 16.15], [11.49, 16.05], [11.56, 16.05], [11.64, 15.75], [11.71, 15.25], [11.78, 15.05], [11.86, 15.35], [11.93, 15.45],
  [12.0, 15.25], [12.08, 15.55], [12.18, 15.45], [12.28, 15.35], [12.4, 15.15], [12.5, 15.25], [12.59, 15.05], [12.69, 15.15],
  [12.76, 15.25], [12.84, 15.15], [12.91, 15.35], [12.98, 15.45], [13.05, 15.35], [13.13, 15.05], [13.2, 14.85], [13.27, 14.65],
  [13.35, 14.6], [13.45, 14.5], [13.57, 14.65], [13.68, 14.75], [13.79, 14.85], [13.89, 14.85], [14.01, 14.75], [14.12, 14.85],
  [14.23, 14.75], [14.33, 14.85], [14.42, 14.95], [14.52, 15.15], [14.62, 15.15], [14.74, 15.05], [14.85, 15.15], [14.96, 15.15],
  [15.06, 15.25], [15.18, 15.35], [15.29, 15.45], [15.39, 15.65], [15.47, 15.85], [15.54, 16.05], [15.61, 16.15], [15.69, 16.15],
  [15.76, 16.6], [15.8, 17.4], [15.88, 17.7], [15.95, 17.9], [16.02, 18.0], [16.1, 18.2], [16.17, 18.95], [16.24, 20.05],
  [16.32, 21.6], [16.39, 22.4], [16.46, 22.5], [16.54, 22.0], [16.61, 21.7], [16.68, 22.0], [16.76, 22.3], [16.83, 22.4],
  [16.9, 22.0], [16.97, 21.6], [17.05, 20.85], [17.12, 20.25], [17.19, 20.05], [17.29, 19.95], [17.4, 19.95], [17.49, 19.85],
  [17.56, 19.35], [17.63, 19.05], [17.7, 18.8], [17.78, 18.5], [17.85, 18.3], [17.92, 17.8], [18.0, 16.9], [18.07, 16.35],
  [18.14, 15.75], [18.22, 15.15], [18.29, 14.8], [18.36, 14.5], [18.44, 14.3], [18.54, 14.1], [18.64, 13.9], [18.76, 13.6],
  [18.86, 13.4], [18.98, 13.1], [19.09, 12.8], [19.2, 12.6], [19.3, 12.5], [19.42, 12.4], [19.53, 12.3], [19.63, 12.3],
  [19.74, 12.5], [19.85, 12.7], [19.97, 13.0], [20.07, 13.4], [20.15, 13.7], [20.22, 13.9], [20.29, 13.9], [20.37, 13.7],
  [20.44, 13.6], [20.56, 13.6], [20.66, 13.7], [20.76, 13.6], [20.88, 13.3], [20.98, 13.3], [21.1, 13.2], [21.2, 13.2],
  [21.29, 13.4], [21.37, 13.8], [21.43, 14.1], [21.51, 14.6], [21.58, 14.95], [21.68, 15.15], [21.75, 15.35], [21.87, 15.45],
  [21.97, 15.35], [22.08, 15.25], [22.19, 15.25], [22.31, 15.55], [22.41, 15.65], [22.49, 15.35], [22.6, 15.35],
];

const greenCO2: [number, number][] = [
  [0, 427.2], [0.12, 426.8], [0.23, 427.2], [0.34, 427.2], [0.44, 426.8], [0.56, 426.2], [0.67, 425.8], [0.82, 425.8],
  [0.96, 426.0], [1.11, 426.2], [1.26, 426.6], [1.4, 426.8], [1.55, 427.0], [1.7, 427.2], [1.84, 427.0], [1.94, 426.8],
  [2.09, 426.6], [2.24, 426.8], [2.38, 427.0], [2.53, 427.2], [2.68, 427.6], [2.78, 428.3], [2.87, 428.9], [2.97, 429.3],
  [3.11, 429.4], [3.26, 429.3], [3.36, 429.1], [3.45, 428.5], [3.55, 428.0], [3.65, 427.6], [3.77, 427.6], [3.89, 427.8],
  [3.99, 427.8], [4.14, 427.8], [4.24, 428.5], [4.33, 428.9], [4.43, 429.0], [4.53, 429.3], [4.62, 429.9], [4.69, 430.95],
  [4.77, 431.8], [4.87, 432.2], [4.94, 432.8], [5.01, 433.9], [5.12, 434.3], [5.2, 434.5], [5.28, 435.5], [5.34, 436.3],
  [5.38, 436.1], [5.42, 434.9], [5.5, 434.9], [5.57, 434.9], [5.64, 435.1], [5.72, 435.5], [5.79, 436.7], [5.85, 439.2],
  [5.92, 441.7], [5.98, 442.5], [6.04, 440.9], [6.11, 435.9], [6.18, 433.9], [6.26, 433.4], [6.33, 433.6], [6.4, 433.6],
  [6.48, 434.7], [6.55, 434.1], [6.67, 434.1], [6.77, 434.3], [6.87, 434.3], [6.99, 434.1], [7.09, 434.1], [7.18, 434.3],
  [7.28, 434.5], [7.35, 434.9], [7.43, 435.5], [7.5, 436.7], [7.57, 438.0], [7.65, 438.4], [7.72, 438.2], [7.79, 439.6],
  [7.84, 440.9], [7.89, 440.7], [7.95, 439.0], [8.01, 439.9], [8.08, 439.9], [8.16, 439.0], [8.23, 439.9], [8.3, 440.1],
  [8.37, 440.5], [8.45, 439.6], [8.52, 438.0], [8.6, 435.9], [8.67, 433.9], [8.74, 433.0], [8.82, 433.2], [8.89, 434.7],
  [8.96, 436.7], [9.04, 437.8], [9.11, 435.5], [9.18, 433.4], [9.25, 433.6], [9.33, 435.5], [9.4, 437.4], [9.47, 435.9],
  [9.55, 434.3], [9.62, 434.7], [9.69, 435.9], [9.77, 436.3], [9.84, 437.6], [9.91, 438.2], [9.99, 435.9], [10.06, 434.9],
  [10.13, 434.7], [10.2, 436.3], [10.28, 438.2], [10.35, 438.4], [10.42, 436.7], [10.5, 436.7], [10.57, 438.8], [10.64, 439.0],
  [10.72, 439.2], [10.79, 439.4], [10.86, 440.1], [10.91, 442.1], [10.96, 442.3], [11.04, 442.8], [11.08, 445.0], [11.15, 445.7],
  [11.23, 443.4], [11.3, 443.8], [11.37, 448.6], [11.45, 445.4], [11.52, 444.2], [11.59, 443.8], [11.67, 446.1], [11.74, 440.9],
  [11.81, 440.5], [11.89, 439.6], [11.96, 440.3], [12.03, 441.1], [12.11, 440.1], [12.18, 440.1], [12.25, 439.2], [12.32, 438.4],
  [12.4, 439.2], [12.47, 439.9], [12.57, 439.9], [12.66, 439.6], [12.76, 439.4], [12.84, 439.2], [12.91, 439.2], [12.98, 439.0],
  [13.05, 438.8], [13.13, 438.4], [13.2, 438.0], [13.27, 437.6], [13.35, 437.6], [13.42, 437.8], [13.49, 438.0], [13.57, 438.0],
  [13.64, 437.6], [13.71, 436.3], [13.79, 435.9], [13.89, 435.7], [14.01, 435.5], [14.11, 435.3], [14.2, 435.1], [14.3, 435.3],
  [14.4, 435.7], [14.49, 436.1], [14.59, 436.1], [14.69, 435.7], [14.81, 435.5], [14.91, 435.5], [15.03, 435.3], [15.13, 435.1],
  [15.22, 434.9], [15.29, 435.1], [15.37, 435.9], [15.44, 436.1], [15.51, 436.3], [15.59, 435.5], [15.66, 435.7], [15.73, 434.7],
  [15.81, 436.5], [15.88, 436.7], [15.95, 436.3], [16.02, 435.9], [16.1, 435.5], [16.17, 435.5], [16.24, 436.3], [16.32, 439.2],
  [16.39, 439.9], [16.46, 438.4], [16.54, 436.3], [16.61, 434.5], [16.68, 434.3], [16.75, 434.1], [16.83, 433.6], [16.9, 433.4],
  [16.97, 433.2], [17.05, 433.0], [17.12, 433.2], [17.22, 433.6], [17.34, 434.1], [17.44, 434.3], [17.54, 434.3], [17.63, 434.1],
  [17.69, 433.9], [17.78, 433.4], [17.85, 432.6], [17.92, 431.6], [18.0, 431.2], [18.07, 430.95], [18.14, 431.2], [18.24, 431.8],
  [18.36, 431.8], [18.46, 431.8], [18.57, 431.6], [18.65, 431.4], [18.76, 431.4], [18.86, 431.4], [18.98, 431.4], [19.09, 431.4],
  [19.2, 431.6], [19.3, 431.8], [19.42, 432.0], [19.53, 432.0], [19.63, 432.2], [19.74, 432.2], [19.85, 432.6], [19.97, 433.0],
  [20.07, 433.2], [20.15, 433.4], [20.22, 433.6], [20.29, 435.7], [20.37, 435.5], [20.44, 433.4], [20.51, 433.6], [20.59, 433.6],
  [20.66, 433.2], [20.73, 432.8], [20.85, 432.6], [20.95, 432.6], [21.05, 432.6], [21.17, 432.8], [21.24, 433.2], [21.32, 433.9],
  [21.39, 434.5], [21.46, 436.1], [21.54, 438.0], [21.61, 436.3], [21.68, 435.5], [21.75, 435.7], [21.83, 436.7], [21.9, 437.8],
  [21.97, 438.0], [22.05, 438.2], [22.12, 438.8], [22.19, 440.1], [22.27, 441.1], [22.34, 442.1], [22.41, 442.5], [22.49, 440.9],
  [22.6, 440.5],
];

const greenRatio: [number, number][] = [
  [0, 0.491], [0.09, 0.485], [0.16, 0.469], [0.23, 0.461], [0.34, 0.461], [0.44, 0.461], [0.53, 0.456], [0.63, 0.451],
  [0.73, 0.44], [0.82, 0.429], [0.92, 0.424], [1.07, 0.421], [1.21, 0.416], [1.36, 0.411], [1.51, 0.403], [1.65, 0.401],
  [1.8, 0.4], [1.9, 0.401], [1.99, 0.411], [2.09, 0.416], [2.19, 0.421], [2.31, 0.424], [2.43, 0.429], [2.53, 0.429],
  [2.6, 0.432], [2.72, 0.435], [2.82, 0.429], [2.92, 0.421], [3.04, 0.419], [3.16, 0.421], [3.26, 0.419], [3.36, 0.419],
  [3.45, 0.421], [3.55, 0.419], [3.65, 0.424], [3.77, 0.421], [3.89, 0.416], [3.99, 0.416], [4.11, 0.416], [4.21, 0.419],
  [4.33, 0.408], [4.43, 0.411], [4.53, 0.413], [4.65, 0.413], [4.75, 0.416], [4.82, 0.427], [4.91, 0.435], [5.01, 0.44],
  [5.12, 0.437], [5.2, 0.432], [5.28, 0.416], [5.35, 0.4], [5.42, 0.421], [5.5, 0.437], [5.57, 0.443], [5.64, 0.448],
  [5.72, 0.451], [5.79, 0.443], [5.86, 0.421], [5.94, 0.405], [6.01, 0.389], [6.08, 0.408], [6.15, 0.421], [6.23, 0.419],
  [6.29, 0.408], [6.37, 0.4], [6.45, 0.384], [6.52, 0.392], [6.59, 0.397], [6.7, 0.395], [6.81, 0.389], [6.92, 0.387],
  [6.99, 0.389], [7.09, 0.392], [7.18, 0.4], [7.28, 0.397], [7.35, 0.397], [7.43, 0.389], [7.5, 0.381], [7.57, 0.381],
  [7.65, 0.379], [7.72, 0.376], [7.79, 0.368], [7.87, 0.363], [7.94, 0.365], [8.01, 0.368], [8.08, 0.376], [8.16, 0.387],
  [8.23, 0.4], [8.3, 0.416], [8.37, 0.424], [8.45, 0.427], [8.52, 0.413], [8.6, 0.4], [8.67, 0.392], [8.74, 0.397],
  [8.82, 0.379], [8.89, 0.389], [8.96, 0.392], [9.04, 0.389], [9.11, 0.379], [9.18, 0.363], [9.25, 0.352], [9.33, 0.347],
  [9.4, 0.357], [9.47, 0.347], [9.55, 0.333], [9.62, 0.341], [9.69, 0.347], [9.77, 0.331], [9.84, 0.328], [9.91, 0.32],
  [9.99, 0.315], [10.06, 0.317], [10.13, 0.315], [10.2, 0.309], [10.28, 0.304], [10.35, 0.299], [10.42, 0.323], [10.5, 0.333],
  [10.57, 0.336], [10.64, 0.331], [10.72, 0.32], [10.79, 0.315], [10.86, 0.317], [10.94, 0.312], [11.01, 0.315], [11.08, 0.307],
  [11.16, 0.312], [11.23, 0.304], [11.3, 0.301], [11.37, 0.285], [11.45, 0.293], [11.52, 0.304], [11.59, 0.296], [11.67, 0.309],
  [11.74, 0.315], [11.81, 0.317], [11.89, 0.315], [11.96, 0.32], [12.03, 0.325], [12.11, 0.323], [12.18, 0.331], [12.25, 0.333],
  [12.32, 0.331], [12.4, 0.325], [12.47, 0.32], [12.54, 0.32], [12.62, 0.32], [12.69, 0.325], [12.76, 0.331], [12.84, 0.336],
  [12.91, 0.336], [12.98, 0.333], [13.05, 0.331], [13.13, 0.325], [13.2, 0.323], [13.27, 0.323], [13.35, 0.32], [13.42, 0.32],
  [13.49, 0.32], [13.57, 0.317], [13.64, 0.323], [13.71, 0.336], [13.79, 0.341], [13.86, 0.344], [13.93, 0.347], [14.01, 0.349],
  [14.08, 0.352], [14.18, 0.353], [14.27, 0.352], [14.37, 0.352], [14.47, 0.355], [14.56, 0.357], [14.66, 0.36], [14.76, 0.36],
  [14.88, 0.363], [14.98, 0.365], [15.06, 0.368], [15.15, 0.371], [15.22, 0.373], [15.29, 0.376], [15.39, 0.378], [15.47, 0.376],
  [15.56, 0.381], [15.63, 0.411], [15.7, 0.424], [15.8, 0.429], [15.88, 0.445], [15.95, 0.459], [16.02, 0.48], [16.1, 0.491],
  [16.17, 0.499], [16.24, 0.509], [16.32, 0.52], [16.39, 0.531], [16.46, 0.552], [16.54, 0.579], [16.61, 0.603], [16.68, 0.624],
  [16.76, 0.635], [16.83, 0.637], [16.9, 0.624], [16.97, 0.603], [17.05, 0.579], [17.12, 0.571], [17.19, 0.565], [17.27, 0.56],
  [17.34, 0.555], [17.41, 0.549], [17.49, 0.541], [17.56, 0.531], [17.63, 0.52], [17.71, 0.512], [17.78, 0.504], [17.85, 0.496],
  [17.92, 0.491], [18.0, 0.483], [18.07, 0.469], [18.14, 0.448], [18.22, 0.429], [18.29, 0.411], [18.36, 0.392], [18.44, 0.384],
  [18.54, 0.379], [18.64, 0.373], [18.71, 0.368], [18.79, 0.365], [18.87, 0.357], [18.94, 0.349], [19.01, 0.341], [19.09, 0.336],
  [19.17, 0.331], [19.24, 0.325], [19.31, 0.317], [19.42, 0.312], [19.52, 0.307], [19.61, 0.304], [19.71, 0.307], [19.8, 0.309],
  [19.92, 0.315], [20.03, 0.32], [20.12, 0.328], [20.19, 0.333], [20.26, 0.331], [20.34, 0.336], [20.41, 0.336], [20.48, 0.341],
  [20.56, 0.339], [20.63, 0.341], [20.7, 0.339], [20.77, 0.339], [20.85, 0.336], [20.95, 0.333], [21.05, 0.331], [21.17, 0.325],
  [21.27, 0.32], [21.37, 0.315], [21.46, 0.317], [21.54, 0.336], [21.61, 0.352], [21.68, 0.36], [21.75, 0.36], [21.83, 0.357],
  [21.9, 0.352], [21.97, 0.344], [22.05, 0.339], [22.12, 0.333], [22.19, 0.325], [22.27, 0.315], [22.34, 0.309], [22.41, 0.315],
  [22.49, 0.317], [22.6, 0.315],
];

// shaded stretches along each line (km)
const redBands = [
  { kind: 'road', x1: 2.87, x2: 6.34 },
  { kind: 'park', x1: 6.51, x2: 10.38 },
  { kind: 'road', x1: 20.3, x2: 21.78 },
];
const greenBands = [
  { kind: 'road', x1: 7.9, x2: 9.03 },
  { kind: 'park', x1: 11.42, x2: 15.33 },
  { kind: 'road', x1: 15.38, x2: 18.87 },
];

const o3Ticks = [20, 24, 28, 32];
const no2Ticks = [10, 14, 18, 22];
const co2Ticks = [430, 440, 450];
const ratioTicks = [0.2, 0.3, 0.4, 0.5, 0.6];
const redKmTicks = [0, 5, 10, 15, 20, 25, 30, 35];
const greenKmTicks = [0, 5, 10, 15, 20];

// ---- layout ----
// every y axis spans the whole stacked plot; these domains put the ticks where the figure has them
const o3Domain = [-22.57, 32];
const no2Domain = [-21.17, 38.78];
const co2Domain = [391.42, 518.17];
const ratioDomain = [0.2, 1.8326];

const H = 2280;
const TOP = 42;
const BOTTOM = 2151;
const THIN = 0.01; // axes need a non-zero width to render; keep them stacked on the same x
const FONT = '"Liberation Sans", Arial, Helvetica, sans-serif';
const BAND_FILL: Record<string, string> = { road: '#ffffbf', park: '#80e080' };
const GRID = '#d6d6d6';

const rows = (pts: [number, number][]) => pts.map(([km, v]) => ({ km, v }));

type PanelProps = {
  width: number;
  left: number;
  right: number;
  xMax: number;
  xTicks: number[];
  labels: boolean;
  frameRight: boolean;
  bands: { kind: string; x1: number; x2: number }[];
  o3: [number, number][];
  no2: [number, number][];
  co2: [number, number][];
  ratio: [number, number][];
};

function yTick(fmt: (v: number) => string, show: boolean) {
  return (props: any) => {
    if (!show) return <g />;
    return (
      <text
        x={props.x}
        y={props.y}
        dy="0.355em"
        textAnchor="end"
        fontSize={46}
        fontFamily={FONT}
        fill="#1a1a1a"
      >
        {fmt(props.payload.value)}
      </text>
    );
  };
}

function Panel(p: PanelProps) {
  const tickStyle = { fontSize: 46, fill: '#1a1a1a', fontFamily: FONT };
  const axes = [
    { id: 'o3', domain: o3Domain, ticks: o3Ticks, data: p.o3, fmt: (v: number) => String(v) },
    { id: 'no2', domain: no2Domain, ticks: no2Ticks, data: p.no2, fmt: (v: number) => String(v) },
    { id: 'co2', domain: co2Domain, ticks: co2Ticks, data: p.co2, fmt: (v: number) => String(v) },
    { id: 'ratio', domain: ratioDomain, ticks: ratioTicks, data: p.ratio, fmt: (v: number) => v.toFixed(1) },
  ];
  return (
    <LineChart
      width={p.width}
      height={H}
      margin={{ top: TOP, right: p.right, bottom: H - BOTTOM - 60, left: p.left - THIN * 4 }}
    >
      <XAxis
        xAxisId="km"
        type="number"
        dataKey="km"
        domain={[0, p.xMax]}
        ticks={p.xTicks}
        interval={0}
        allowDataOverflow
        height={60}
        tickSize={12}
        tickMargin={23}
        tick={tickStyle}
        tickLine={{ stroke: '#333', strokeWidth: 2 }}
        axisLine={{ stroke: '#222', strokeWidth: 2.5 }}
      />
      <XAxis
        xAxisId="top"
        orientation="top"
        type="number"
        domain={[0, p.xMax]}
        height={THIN}
        tick={false}
        tickLine={false}
        axisLine={{ stroke: '#444', strokeWidth: 2 }}
      />
      {axes.map((a, i) => (
        <YAxis
          key={a.id}
          yAxisId={a.id}
          type="number"
          width={THIN}
          domain={a.domain}
          ticks={a.ticks}
          interval={0}
          allowDataOverflow
          tickSize={12}
          tickMargin={14}
          tick={yTick(a.fmt, p.labels)}
          tickLine={{ stroke: '#333', strokeWidth: 2 }}
          axisLine={i === 0 ? { stroke: '#222', strokeWidth: 2.5 } : false}
        />
      ))}
      {p.frameRight && (
        <YAxis
          yAxisId="frame"
          orientation="right"
          type="number"
          width={THIN}
          domain={[0, 1]}
          tick={false}
          tickLine={false}
          axisLine={{ stroke: '#444', strokeWidth: 2 }}
        />
      )}
      {p.bands.map((b) => (
        <ReferenceArea
          key={b.x1}
          xAxisId="km"
          yAxisId="o3"
          x1={b.x1}
          x2={b.x2}
          fill={BAND_FILL[b.kind]}
          fillOpacity={0.8}
          stroke="none"
        />
      ))}
      <CartesianGrid xAxisId="km" yAxisId="o3" horizontal={false} stroke={GRID} strokeWidth={2.5} />
      {axes.map((a) => (
        <CartesianGrid key={'g' + a.id} xAxisId="km" yAxisId={a.id} vertical={false} stroke={GRID} strokeWidth={2.5} />
      ))}
      {axes.map((a) => (
        <Line
          key={'l' + a.id}
          xAxisId="km"
          yAxisId={a.id}
          data={rows(a.data)}
          dataKey="v"
          type="linear"
          stroke="#000"
          strokeWidth={6.5}
          strokeLinejoin="round"
          strokeLinecap="round"
          dot={false}
          activeDot={false}
          isAnimationActive={false}
        />
      ))}
    </LineChart>
  );
}

function arrow(from: [number, number], tip: [number, number], len = 32, half = 15) {
  const dx = tip[0] - from[0];
  const dy = tip[1] - from[1];
  const d = Math.hypot(dx, dy);
  const ux = dx / d;
  const uy = dy / d;
  const bx = tip[0] - ux * len;
  const by = tip[1] - uy * len;
  const head = `${tip[0]},${tip[1]} ${bx - uy * half},${by + ux * half} ${bx + uy * half},${by - ux * half}`;
  return { end: [bx + ux * 4, by + uy * 4], head };
}

function Overlay() {
  const apex: [number, number] = [1280, 641];
  const a1 = arrow(apex, [947, 781]);
  const a2 = arrow(apex, [1592, 721]);
  const letter = { fontFamily: FONT, fontWeight: 700, fontSize: 76, fill: '#111', textAnchor: 'middle' as const };
  const title = { fontFamily: FONT, fontSize: 57, fill: '#111', textAnchor: 'middle' as const };
  const note = { fontFamily: 'Lato, "Open Sans", sans-serif', fontWeight: 700, fontSize: 43, fill: '#000', textAnchor: 'middle' as const };
  return (
    <svg width={2104} height={H} style={{ position: 'absolute', left: 0, top: 0, pointerEvents: 'none' }}>
      {/* cropped slide text at the left edge */}
      <text x={1} y={314} fontFamily="Lato, sans-serif" fontSize={60} fill="#000">l</text>
      <text x={-27} y={700} fontFamily="Lato, sans-serif" fontSize={60} fill="#000">d.</text>

      <text x={376} y={150} {...letter}>A</text>
      <text x={874} y={143} {...letter}>B</text>
      <text x={1664} y={154} {...letter}>C</text>
      <text x={1934} y={160} {...letter}>D</text>

      <text transform="translate(136,333) rotate(-90)" {...title}>
        O<tspan fontSize={36} dy={9}>3</tspan><tspan dy={-9}>{'\u00a0(ppb)'}</tspan>
      </text>
      <text transform="translate(136,907) rotate(-90)" {...title}>
        NO<tspan fontSize={36} dy={9}>2</tspan><tspan dy={-9}>{'\u00a0(ppb)'}</tspan>
      </text>
      <text transform="translate(107,1384) rotate(-90)" {...title}>
        CO<tspan fontSize={36} dy={9}>2</tspan><tspan dy={-9}>{'\u00a0(ppm)'}</tspan>
      </text>
      <text transform="translate(120,1860) rotate(-90)" {...title}>
        Excess NO<tspan fontSize={36} dy={9}>2</tspan><tspan dy={-9}>/CO</tspan><tspan fontSize={36} dy={9}>2</tspan>
      </text>

      <text x={808} y={2277} {...title} fontSize={58} textLength={1017} lengthAdjust="spacingAndGlyphs">
        Distance along the TRAX: Red line (km)
      </text>
      <text x={1771} y={2277} {...title} fontSize={58} textLength={392} lengthAdjust="spacingAndGlyphs">
        Green line (km)
      </text>

      <ellipse cx={868} cy={856} rx={89} ry={103} fill="none" stroke="#ff0000" strokeWidth={7} />
      <ellipse cx={1655} cy={794} rx={91} ry={103} fill="none" stroke="#ff0000" strokeWidth={7} />
      <line x1={apex[0]} y1={apex[1]} x2={a1.end[0]} y2={a1.end[1]} stroke="#ff0000" strokeWidth={7} />
      <line x1={apex[0]} y1={apex[1]} x2={a2.end[0]} y2={a2.end[1]} stroke="#ff0000" strokeWidth={7} />
      <polygon points={a1.head} fill="#ff0000" />
      <polygon points={a2.head} fill="#ff0000" />

      <rect x={1099} y={527} width={361} height={116} fill="#fff" stroke="#000" strokeWidth={2.5} />
      <text x={1280} y={572} {...note}>
        ~3 ppb NO<tspan fontSize={28} dy={10}>2</tspan>
      </text>
      <text x={1280} y={628} {...note}>increase by I-15</text>
    </svg>
  );
}

export default function App() {
  return (
    <div
      style={{
        position: 'fixed',
        left: 0,
        top: 0,
        width: 2104,
        height: H,
        overflow: 'hidden',
        background: '#fff',
      }}
    >
      <div style={{ position: 'absolute', left: 0, top: 0 }}>
        <Panel
          width={1400}
          left={232}
          right={15}
          xMax={37.75}
          xTicks={redKmTicks}
          labels
          frameRight
          bands={redBands}
          o3={redO3}
          no2={redNO2}
          co2={redCO2}
          ratio={redRatio}
        />
      </div>
      <div style={{ position: 'absolute', left: 1390, top: 0 }}>
        <Panel
          width={740}
          left={20}
          right={14}
          xMax={23}
          xTicks={greenKmTicks}
          labels={false}
          frameRight={false}
          bands={greenBands}
          o3={greenO3}
          no2={greenNO2}
          co2={greenCO2}
          ratio={greenRatio}
        />
      </div>
      <Overlay />
    </div>
  );
}
